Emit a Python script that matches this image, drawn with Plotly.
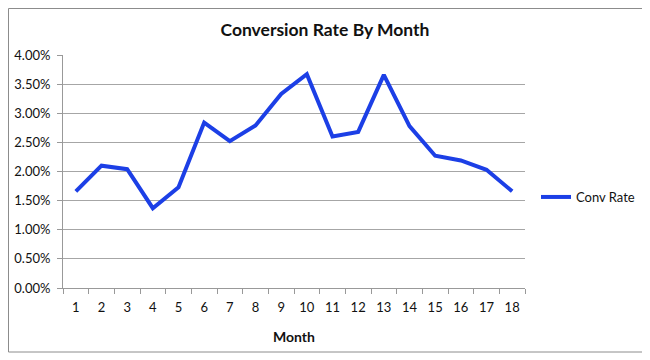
import plotly.graph_objects as go

months = [str(i) for i in range(1, 19)]
conv_rate = [0.0166, 0.0210, 0.0204, 0.0137, 0.0173, 0.0284, 0.0252, 0.0279, 0.0333,
             0.0367, 0.0260, 0.0268, 0.0366, 0.0278, 0.0227, 0.0219, 0.0203, 0.0166]
y_ticks = [0, 0.005, 0.01, 0.015, 0.02, 0.025, 0.03, 0.035, 0.04]

FONT = "Lato, 'Open Sans', sans-serif"

# the page body has an 8px margin, so screen coords = figure coords + 8
OFF = 8
W, H = 650 - OFF, 360 - OFF
L, T = 63 - OFF, 55 - OFF
pw, ph = 462, 233
R, B = W - L - pw, H - T - ph


def px(x):
    return (x - OFF - L) / pw


def py(y):
    return (T + ph - (y - OFF)) / ph


fig = go.Figure()
fig.add_trace(go.Scatter(x=months, y=conv_rate, mode="lines", name="Conv Rate",
                         line=dict(color="#1c3fe6", width=4)))

fig.update_layout(
    width=W, height=H,
    margin=dict(l=L, r=R, t=T, b=B, autoexpand=False),
    paper_bgcolor="white", plot_bgcolor="white",
    font=dict(family=FONT, size=13, color="#111"),
    title=dict(text="<b>Conversion Rate By Month</b>", x=0.5 - OFF / 2 / W, xref="container",
               y=1 - (30 - OFF) / H, yref="container", yanchor="middle", xanchor="center",
               font=dict(size=17.5, family=FONT, color="#111")),
    showlegend=True,
    legend=dict(x=px(536), y=py(197), xanchor="left", yanchor="middle",
                itemwidth=30, font=dict(size=13, family=FONT, color="#111"),
                bgcolor="rgba(0,0,0,0)"),
    xaxis=dict(type="category", range=[-0.5, 17.5], showgrid=False, showline=True,
               linecolor="#999", linewidth=1, ticks="outside", tickson="boundaries",
               ticklen=5, tickcolor="#999", tickfont=dict(size=13),
               ticklabelstandoff=7,
               title=dict(text="<b>Month</b>", font=dict(size=14), standoff=18),
               zeroline=False),
    yaxis=dict(range=[0, 0.04], tickvals=y_ticks, tickformat=".2%",
               showgrid=True, gridcolor="#a6a6a6", gridwidth=1,
               showline=True, linecolor="#999", linewidth=1,
               ticks="outside", ticklen=5, tickcolor="#999", ticklabelstandoff=4,
               zeroline=False, tickfont=dict(size=13)),
    shapes=[dict(type="rect", xref="paper", yref="paper",
                 x0=px(OFF + 0.5), x1=px(643), y0=py(352), y1=py(OFF + 0.5),
                 line=dict(color="#8c8c8c", width=1), fillcolor="rgba(0,0,0,0)",
                 layer="below")],
)

fig.write_html("out.html")
